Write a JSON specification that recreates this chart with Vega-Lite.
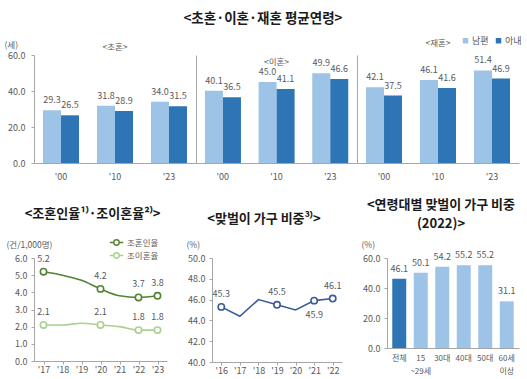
{
 "$schema": "https://vega.github.io/schema/vega-lite/v6.json",
 "background": "white",
 "padding": {"left": 4, "top": 11, "right": 4, "bottom": 2},
 "config": {
  "font": "Noto Sans CJK KR",
  "view": {"stroke": null},
  "mark": {"font": "Noto Sans CJK KR"},
  "axis": {"labelFont": "Noto Sans CJK KR", "labelFontSize": 9, "labelColor": "#595959", "domainColor": "#a6a6a6", "tickColor": "#a6a6a6", "grid": false, "titleFont": "Noto Sans CJK KR", "titleFontSize": 8.5, "titleColor": "#595959", "titleFontWeight": "normal"},
  "legend": {"labelFont": "Noto Sans CJK KR", "labelFontSize": 9, "labelColor": "#595959"},
  "title": {"font": "Noto Sans CJK KR", "fontSize": 13, "color": "#1a1a1a", "fontWeight": "bold"}
 },
 "resolve": {"scale": {"color": "independent"}, "legend": {"color": "independent"}},
 "datasets": {
  "age": [
   {"type": "초혼", "year": "'00", "spouse": "남편", "value": 29.3},
   {"type": "초혼", "year": "'00", "spouse": "아내", "value": 26.5},
   {"type": "초혼", "year": "'10", "spouse": "남편", "value": 31.8},
   {"type": "초혼", "year": "'10", "spouse": "아내", "value": 28.9},
   {"type": "초혼", "year": "'23", "spouse": "남편", "value": 34.0},
   {"type": "초혼", "year": "'23", "spouse": "아내", "value": 31.5},
   {"type": "이혼", "year": "'00", "spouse": "남편", "value": 40.1},
   {"type": "이혼", "year": "'00", "spouse": "아내", "value": 36.5},
   {"type": "이혼", "year": "'10", "spouse": "남편", "value": 45.0},
   {"type": "이혼", "year": "'10", "spouse": "아내", "value": 41.1},
   {"type": "이혼", "year": "'23", "spouse": "남편", "value": 49.9},
   {"type": "이혼", "year": "'23", "spouse": "아내", "value": 46.6},
   {"type": "재혼", "year": "'00", "spouse": "남편", "value": 42.1},
   {"type": "재혼", "year": "'00", "spouse": "아내", "value": 37.5},
   {"type": "재혼", "year": "'10", "spouse": "남편", "value": 46.1},
   {"type": "재혼", "year": "'10", "spouse": "아내", "value": 41.6},
   {"type": "재혼", "year": "'23", "spouse": "남편", "value": 51.4},
   {"type": "재혼", "year": "'23", "spouse": "아내", "value": 46.9}
  ],
  "rates": [
   {"year": "'17", "series": "조혼인율", "value": 5.2},
   {"year": "'18", "series": "조혼인율", "value": 5.0},
   {"year": "'19", "series": "조혼인율", "value": 4.7},
   {"year": "'20", "series": "조혼인율", "value": 4.2},
   {"year": "'21", "series": "조혼인율", "value": 3.8},
   {"year": "'22", "series": "조혼인율", "value": 3.7},
   {"year": "'23", "series": "조혼인율", "value": 3.8},
   {"year": "'17", "series": "조이혼율", "value": 2.1},
   {"year": "'18", "series": "조이혼율", "value": 2.1},
   {"year": "'19", "series": "조이혼율", "value": 2.2},
   {"year": "'20", "series": "조이혼율", "value": 2.1},
   {"year": "'21", "series": "조이혼율", "value": 2.0},
   {"year": "'22", "series": "조이혼율", "value": 1.8},
   {"year": "'23", "series": "조이혼율", "value": 1.8}
  ],
  "dual": [
   {"year": "'16", "value": 45.3},
   {"year": "'17", "value": 44.4},
   {"year": "'18", "value": 46.0},
   {"year": "'19", "value": 45.5},
   {"year": "'20", "value": 45.0},
   {"year": "'21", "value": 45.9},
   {"year": "'22", "value": 46.1}
  ],
  "byage": [
   {"age": "전체", "value": 46.1},
   {"age": "15 ~29세", "value": 50.1},
   {"age": "30대", "value": 54.2},
   {"age": "40대", "value": 55.2},
   {"age": "50대", "value": 55.2},
   {"age": "60세 이상", "value": 31.1}
  ]
 },
 "spacing": 18,
 "vconcat": [
  {
   "title": {"text": "<초혼·이혼·재혼 평균연령>", "fontSize": 13.5, "fontWeight": "bold", "offset": 11, "anchor": "middle"},
   "spacing": 0,
   "resolve": {"scale": {"color": "independent"}, "legend": {"color": "independent"}},
   "hconcat": [
    {
     "width": 162, "height": 108,
     "title": {"text": "<초혼>", "fontSize": 8.5, "fontWeight": "normal", "color": "#595959", "offset": -11},
     "data": {"name": "age"},
     "transform": [{"filter": {"field": "type", "equal": "초혼"}}],
     "encoding": {
      "x": {"field": "year", "type": "nominal", "sort": null, "scale": {"paddingInner": 0.333, "paddingOuter": 0.167}, "axis": {"title": null, "labelAngle": 0, "ticks": false, "labelPadding": 9}},
      "xOffset": {"field": "spouse", "type": "nominal", "sort": ["남편", "아내"]},
      "y": {"field": "value", "type": "quantitative", "scale": {"domain": [0, 60]}, "axis": {"values": [0, 20, 40, 60], "format": ".1f", "title": "(세)", "titleAngle": 0, "titleAlign": "left", "titleBaseline": "bottom", "titleX": -30, "titleY": -6, "tickSize": 3, "labelPadding": 6}}
     },
     "layer": [
      {"mark": "bar", "encoding": {"color": {"field": "spouse", "type": "nominal", "scale": {"domain": ["남편", "아내"], "range": ["#9DC3E6", "#2E75B6"]}, "legend": null}}},
      {"mark": {"type": "text", "dy": -5, "fontSize": 9, "color": "#595959", "baseline": "bottom"}, "encoding": {"text": {"field": "value", "type": "quantitative", "format": ".1f"}}}
     ]
    },
    {
     "width": 161, "height": 108,
     "title": {"text": "<이혼>", "fontSize": 8.5, "fontWeight": "normal", "color": "#595959", "offset": -11},
     "data": {"name": "age"},
     "transform": [{"filter": {"field": "type", "equal": "이혼"}}],
     "encoding": {
      "x": {"field": "year", "type": "nominal", "sort": null, "scale": {"paddingInner": 0.333, "paddingOuter": 0.167}, "axis": {"title": null, "labelAngle": 0, "ticks": false, "labelPadding": 9}},
      "xOffset": {"field": "spouse", "type": "nominal", "sort": ["남편", "아내"]},
      "y": {"field": "value", "type": "quantitative", "scale": {"domain": [0, 60]}, "axis": {"labels": false, "ticks": false, "title": null}}
     },
     "layer": [
      {"mark": "bar", "encoding": {"color": {"field": "spouse", "type": "nominal", "scale": {"domain": ["남편", "아내"], "range": ["#9DC3E6", "#2E75B6"]}, "legend": null}}},
      {"mark": {"type": "text", "dy": -5, "fontSize": 9, "color": "#595959", "baseline": "bottom"}, "encoding": {"text": {"field": "value", "type": "quantitative", "format": ".1f"}}}
     ]
    },
    {
     "width": 162, "height": 108,
     "title": {"text": "<재혼>", "fontSize": 8.5, "fontWeight": "normal", "color": "#595959", "offset": -11},
     "data": {"name": "age"},
     "transform": [{"filter": {"field": "type", "equal": "재혼"}}],
     "encoding": {
      "x": {"field": "year", "type": "nominal", "sort": null, "scale": {"paddingInner": 0.333, "paddingOuter": 0.167}, "axis": {"title": null, "labelAngle": 0, "ticks": false, "labelPadding": 9}},
      "xOffset": {"field": "spouse", "type": "nominal", "sort": ["남편", "아내"]},
      "y": {"field": "value", "type": "quantitative", "scale": {"domain": [0, 60]}, "axis": {"labels": false, "ticks": false, "title": null}}
     },
     "layer": [
      {"mark": "bar", "encoding": {"color": {"field": "spouse", "type": "nominal", "scale": {"domain": ["남편", "아내"], "range": ["#9DC3E6", "#2E75B6"]}, "legend": {"orient": "none", "legendX": 104, "legendY": -19, "direction": "horizontal", "title": null, "symbolType": "square", "symbolSize": 30, "symbolStrokeWidth": 0, "columnPadding": 5, "labelOffset": 2}}}},
      {"mark": {"type": "text", "dy": -5, "fontSize": 9, "color": "#595959", "baseline": "bottom"}, "encoding": {"text": {"field": "value", "type": "quantitative", "format": ".1f"}}}
     ]
    }
   ]
  },
  {
   "spacing": 19,
   "resolve": {"scale": {"color": "independent"}, "legend": {"color": "independent"}},
   "hconcat": [
    {
     "width": 133, "height": 103,
     "title": {"text": "<조혼인율¹⁾·조이혼율²⁾>", "dx": -8, "offset": 14},
     "data": {"name": "rates"},
     "encoding": {
      "x": {"field": "year", "type": "ordinal", "scale": {"type": "point", "padding": 0.5}, "axis": {"title": null, "labelAngle": 0, "tickSize": 3, "labelPadding": 1}},
      "y": {"field": "value", "type": "quantitative", "scale": {"domain": [0, 6]}, "axis": {"values": [0, 1, 2, 3, 4, 5, 6], "format": ".1f", "title": "(건/1,000명)", "titleAngle": 0, "titleAlign": "left", "titleBaseline": "bottom", "titleX": -28, "titleY": -9, "tickSize": 3, "labelPadding": 4}},
      "color": {"field": "series", "type": "nominal", "scale": {"domain": ["조혼인율", "조이혼율"], "range": ["#548235", "#A9D18E"]}, "legend": {"orient": "none", "legendX": 75, "legendY": -23, "title": null, "symbolType": "M-1,0L-0.4,0M0.4,0L1,0M-0.4,0A0.4,0.4 0 1 1 0.4,0A0.4,0.4 0 1 1 -0.4,0", "symbolSize": 180, "symbolStrokeWidth": 1.4, "symbolFillColor": "white", "rowPadding": 0, "labelOffset": 3, "labelFontSize": 8.5}}
     },
     "layer": [
      {"mark": {"type": "line", "interpolate": "monotone", "strokeWidth": 1.6}},
      {"transform": [{"filter": {"field": "year", "oneOf": ["'17", "'20", "'22", "'23"]}}], "mark": {"type": "point", "filled": false, "fill": "white", "size": 40, "strokeWidth": 1.6, "opacity": 1}},
      {"transform": [{"filter": {"field": "year", "oneOf": ["'17", "'20", "'22", "'23"]}}], "mark": {"type": "text", "dy": -13, "fontSize": 9}, "encoding": {"text": {"field": "value", "type": "quantitative", "format": ".1f"}, "color": {"value": "#595959"}}}
     ]
    },
    {
     "width": 130, "height": 104,
     "title": {"text": "<맞벌이 가구 비중³⁾>", "dx": -13, "offset": 14},
     "data": {"name": "dual"},
     "encoding": {
      "x": {"field": "year", "type": "ordinal", "scale": {"type": "point", "padding": 0.5}, "axis": {"title": null, "labelAngle": 0, "tickSize": 3, "labelPadding": 1}},
      "y": {"field": "value", "type": "quantitative", "scale": {"domain": [40, 50]}, "axis": {"values": [40, 42, 44, 46, 48, 50], "format": ".1f", "title": "(%)", "titleAngle": 0, "titleAlign": "left", "titleBaseline": "bottom", "titleX": -26, "titleY": -9, "tickSize": 3, "labelPadding": 4}}
     },
     "layer": [
      {"mark": {"type": "line", "color": "#3B5A9A", "strokeWidth": 1.6}},
      {"transform": [{"filter": {"field": "year", "oneOf": ["'16", "'19", "'21", "'22"]}}], "mark": {"type": "point", "filled": false, "fill": "white", "color": "#3B5A9A", "size": 40, "strokeWidth": 1.6, "opacity": 1}},
      {"transform": [{"filter": {"field": "year", "oneOf": ["'16", "'19", "'22"]}}], "mark": {"type": "text", "dy": -13, "fontSize": 9, "color": "#595959"}, "encoding": {"text": {"field": "value", "type": "quantitative", "format": ".1f"}}},
      {"transform": [{"filter": {"field": "year", "equal": "'21"}}], "mark": {"type": "text", "dy": 14, "fontSize": 9, "color": "#595959"}, "encoding": {"text": {"field": "value", "type": "quantitative", "format": ".1f"}}}
     ]
    },
    {
     "width": 132, "height": 90,
     "title": {"text": ["<연령대별 맞벌이 가구 비중", "(2022)>"], "dx": -12, "lineHeight": 19, "offset": 9},
     "data": {"name": "byage"},
     "encoding": {
      "x": {"field": "age", "type": "nominal", "sort": null, "scale": {"paddingInner": 0.35, "paddingOuter": 0.245}, "axis": {"title": null, "labelAngle": 0, "ticks": false, "labelPadding": 6, "labelFontSize": 8, "labelExpr": "split(datum.label, ' ')", "labelLineHeight": 13}},
      "y": {"field": "value", "type": "quantitative", "scale": {"domain": [0, 60]}, "axis": {"values": [0, 20, 40, 60], "format": ".1f", "title": "(%)", "titleAngle": 0, "titleAlign": "left", "titleBaseline": "bottom", "titleX": -26, "titleY": -9, "tickSize": 3, "labelPadding": 4}}
     },
     "layer": [
      {"mark": "bar", "encoding": {"color": {"condition": {"test": "datum.age === '전체'", "value": "#2E75B6"}, "value": "#9DC3E6"}}},
      {"mark": {"type": "text", "dy": -5, "fontSize": 9, "color": "#595959", "baseline": "bottom"}, "encoding": {"text": {"field": "value", "type": "quantitative", "format": ".1f"}}}
     ]
    }
   ]
  }
 ]
}
